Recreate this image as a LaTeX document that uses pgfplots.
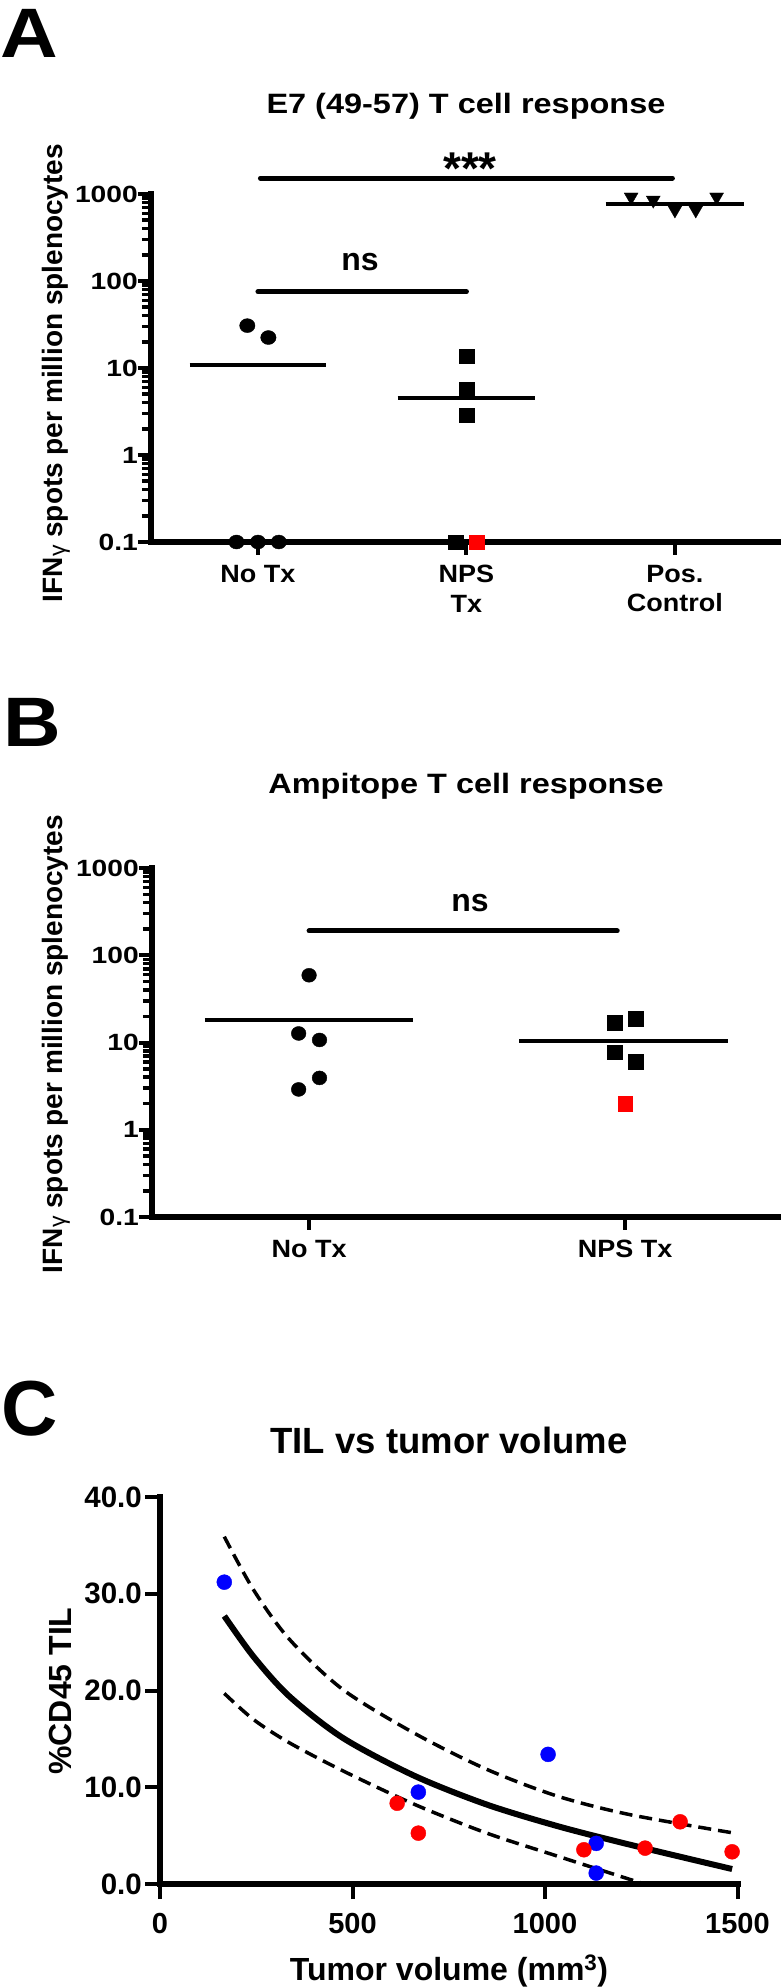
\documentclass[border=0pt]{standalone}
\usepackage{fontspec}
\setmainfont{Liberation Sans}
\newfontfamily\titlefont[FakeStretch=1.16]{Liberation Sans}
\newfontfamily\ytfont[FakeStretch=1.2]{Liberation Sans}
\newfontfamily\xtfont[FakeStretch=1.08]{Liberation Sans}
\newfontfamily\letterfont[FakeStretch=1.14]{Liberation Sans}
\usepackage{pgfplots}
\pgfplotsset{compat=1.18}
\definecolor{gpred}{RGB}{255,0,0}
\definecolor{gpblue}{RGB}{0,0,255}

\pgfplotsset{
 gp/.style={
  scale only axis, clip=false,
  axis x line*=bottom, axis y line*=left,
  axis line style={-, line width=6pt, line cap=rect, black},
  every outer x axis line/.append style={-},
  every outer y axis line/.append style={-},
  tick align=outside,
  tick style={line width=4pt, black},
  major tick style={line width=4pt, black},
  minor tick style={line width=3.5pt, black},
 },
 gplog/.style={gp,
  ytick={0.1,1,10,100,1000}, yticklabels={0.1,1,10,100,1000},
  minor ytick={0.2,0.3,0.4,0.5,0.6,0.7,0.8,0.9,2,3,4,5,6,7,8,9,20,30,40,50,60,70,80,90,200,300,400,500,600,700,800,900},
  major tick length=13pt, minor tick length=9pt,
  yticklabel style={anchor=east, inner sep=0pt, xshift=0pt, font=\ytfont\bfseries\fontsize{23.5}{24}\selectfont},
  xticklabel style={anchor=north, align=center, inner sep=0pt, yshift=-10pt, font=\xtfont\bfseries\fontsize{25}{29.5}\selectfont},
 },
}

\begin{document}
\begin{tikzpicture}
\useasboundingbox (0pt,0pt) rectangle (780pt,-1987pt);

% ---------------- Panel A ----------------
\begin{axis}[ymode=log, ymin=0.1, ymax=1000, gplog, at={(151pt,-542pt)}, anchor=south west, width=629pt, height=348pt,
  xmin=0.487, xmax=3.504, xtick={1,2,3}, xticklabels={No Tx, NPS\\Tx, Pos.\\Control}]
\addplot[black, line width=4pt] coordinates {(0.672,10.8)(1.328,10.8)};
\addplot[black, line width=4pt] coordinates {(1.67,4.47)(2.33,4.47)};
\addplot[black, line width=4pt] coordinates {(2.667,776)(3.333,776)};
\addplot[black, line width=5pt, line cap=round] coordinates {(1.012,1525)(2.988,1525)};
\addplot[black, line width=5pt, line cap=round] coordinates {(1.0,75.3)(2.0,75.3)};
\addplot[only marks, mark=*, mark size=7pt, mark options={black, fill=black, xscale=1.1}]
  coordinates {(0.897,0.1)(1,0.1)(1.1,0.1)(0.949,30.7)(1.05,22.4)};
\addplot[only marks, mark=square*, mark size=7pt, mark options={black, fill=black, xscale=1.05}]
  coordinates {(1.95,0.1)(2,13.5)(2,5.7)(2,2.9)};
\addplot[only marks, mark=square*, mark size=7pt, mark options={gpred, fill=gpred, xscale=1.05}]
  coordinates {(2.05,0.1)};
\addplot[only marks, mark=triangle*, mark size=8pt, mark options={black, fill=black, rotate=180}]
  coordinates {(2.79,925)(2.896,851)(3,656)(3.1,656)(3.2,925)};
\end{axis}

% ---------------- Panel B ----------------
\begin{axis}[ymode=log, ymin=0.1, ymax=1000, gplog, at={(152pt,-1217pt)}, anchor=south west, width=628pt, height=349pt,
  xmin=0.503, xmax=2.49, xtick={1,2}, xticklabels={No Tx, NPS Tx}]
\addplot[black, line width=4pt] coordinates {(0.67,18)(1.33,18)};
\addplot[black, line width=4pt] coordinates {(1.665,10.3)(2.325,10.3)};
\addplot[black, line width=5pt, line cap=round] coordinates {(1.0,190)(1.975,190)};
\addplot[only marks, mark=*, mark size=7pt, mark options={black, fill=black, xscale=1.05}]
  coordinates {(1,59)(0.967,12.7)(1.033,10.7)(1.033,3.93)(0.967,2.9)};
\addplot[only marks, mark=square*, mark size=7.2pt, mark options={black, fill=black}]
  coordinates {(1.967,16.9)(2.033,18.7)(1.967,7.8)(2.033,6.0)};
\addplot[only marks, mark=square*, mark size=7.2pt, mark options={gpred, fill=gpred}]
  coordinates {(2.0,1.98)};
\end{axis}

% ---------------- Panel C ----------------
\begin{axis}[gp, at={(160pt,-1884pt)}, anchor=south west, width=577.5pt, height=387pt,
  xmin=0, xmax=1500, ymin=0, ymax=40,
  major tick length=15pt,
  xtick={0,500,1000,1500}, xticklabels={0,500,1000,1500},
  ytick={0,10,20,30,40}, yticklabels={0.0,10.0,20.0,30.0,40.0},
  yticklabel style={anchor=east, inner sep=0pt, xshift=-3pt, font=\bfseries\fontsize{29.5}{29.5}\selectfont},
  xticklabel style={anchor=north, inner sep=0pt, yshift=-14pt, font=\bfseries\fontsize{29}{29}\selectfont}]
\addplot[black, line width=3.5pt, dash pattern=on 13pt off 7pt, smooth]
  coordinates {(167,35.9)(243,30.4)(336,25.3)(475,20.1)(660,15.6)(846,11.9)(1031,9.1)(1217,7.2)(1486,5.3)};
\addplot[black, line width=6pt, smooth]
  coordinates {(167,27.7)(243,23.5)(336,19.4)(475,15.1)(660,11.2)(846,8.25)(1031,6.0)(1217,4.1)(1486,1.55)};
\addplot[black, line width=3.5pt, dash pattern=on 13pt off 7pt, smooth]
  coordinates {(167,19.7)(243,17.0)(336,14.6)(475,11.7)(660,8.25)(846,5.3)(1031,2.9)(1258,0)};
\addplot[only marks, mark=*, mark size=7.5pt, mark options={gpblue, fill=gpblue}]
  coordinates {(167,31.2)(671,9.5)(1008,13.4)(1133,4.2)(1133,1.13)};
\addplot[only marks, mark=*, mark size=7.5pt, mark options={gpred, fill=gpred}]
  coordinates {(616,8.35)(671,5.26)(1101,3.54)(1260,3.71)(1351,6.43)(1486,3.33)};
\end{axis}

% ---------------- Texts ----------------
\node[anchor=base west, inner sep=0pt, font=\letterfont\bfseries\fontsize{70}{70}\selectfont] at (0pt,-57pt) {A};
\node[anchor=base, inner sep=0pt, font=\titlefont\bfseries\fontsize{28}{28}\selectfont] at (466pt,-113pt) {E7 (49-57) T cell response};
\node[anchor=base, inner sep=0pt, font=\bfseries\fontsize{46}{46}\selectfont] at (470pt,-184pt) {***};
\node[anchor=base, inner sep=0pt, font=\bfseries\fontsize{32}{32}\selectfont] at (360pt,-270pt) {ns};
\node[rotate=90, anchor=base, inner sep=0pt, font=\bfseries\fontsize{28}{28}\selectfont] at (62pt,-373pt)
  {IFN{\mdseries\fontsize{23}{23}\selectfont\raisebox{-3pt}{γ}} spots per million splenocytes};

\node[anchor=base west, inner sep=0pt, font=\letterfont\bfseries\fontsize{70}{70}\selectfont] at (3pt,-746pt) {B};
\node[anchor=base, inner sep=0pt, font=\titlefont\bfseries\fontsize{28}{28}\selectfont] at (466pt,-793pt) {Ampitope T cell response};
\node[anchor=base, inner sep=0pt, font=\bfseries\fontsize{32}{32}\selectfont] at (470pt,-911pt) {ns};
\node[rotate=90, anchor=base, inner sep=0pt, font=\bfseries\fontsize{28}{28}\selectfont] at (62pt,-1044pt)
  {IFN{\mdseries\fontsize{23}{23}\selectfont\raisebox{-3pt}{γ}} spots per million splenocytes};

\node[anchor=base west, inner sep=0pt, font=\bfseries\fontsize{78}{78}\selectfont] at (1pt,-1435pt) {C};
\node[anchor=base, inner sep=0pt, font=\bfseries\fontsize{36.5}{36.5}\selectfont] at (449pt,-1453pt) {TIL vs tumor volume};
\node[anchor=base, inner sep=0pt, font=\bfseries\fontsize{32}{32}\selectfont] at (449pt,-1980pt) {Tumor volume (mm\textsuperscript{3})};
\node[rotate=90, anchor=base, inner sep=0pt, font=\bfseries\fontsize{32}{32}\selectfont] at (71pt,-1691pt) {\%CD45 TIL};
\end{tikzpicture}
\end{document}
